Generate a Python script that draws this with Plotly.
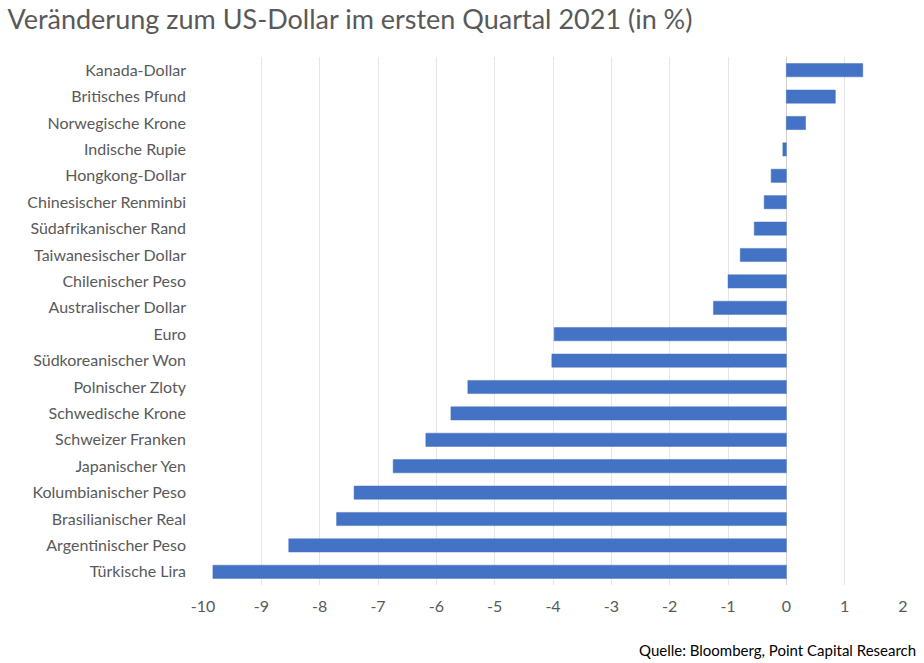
import plotly.graph_objects as go

categories = [
    "Kanada-Dollar", "Britisches Pfund", "Norwegische Krone", "Indische Rupie",
    "Hongkong-Dollar", "Chinesischer Renminbi", "Südafrikanischer Rand",
    "Taiwanesischer Dollar", "Chilenischer Peso", "Australischer Dollar",
    "Euro", "Südkoreanischer Won", "Polnischer Zloty", "Schwedische Krone",
    "Schweizer Franken", "Japanischer Yen", "Kolumbianischer Peso",
    "Brasilianischer Real", "Argentinischer Peso", "Türkische Lira",
]
values = [
    1.31, 0.84, 0.33, -0.06, -0.26, -0.38, -0.55, -0.79, -1.0, -1.25,
    -3.98, -4.02, -5.46, -5.75, -6.18, -6.74, -7.41, -7.71, -8.53, -9.83,
]
tick_values = list(range(-10, 3))

FONT = "Lato"
GREY = "#595959"

fig = go.Figure(go.Bar(
    x=values, y=categories, orientation="h",
    marker=dict(color="#4472C4", line=dict(color="#4472C4", width=0.5)),
    width=0.5,
))

fig.update_layout(
    width=924, height=663,
    margin=dict(l=203, r=21, t=57, b=78),
    paper_bgcolor="white", plot_bgcolor="white",
    showlegend=False,
    font=dict(family=FONT, color=GREY, size=16),
    title=dict(
        text="Veränderung zum US-Dollar im ersten Quartal 2021 (in %)",
        x=0.008, xanchor="left", y=0.97, yanchor="middle",
        font=dict(family=FONT, size=27, color=GREY),
    ),
    xaxis=dict(
        range=[-10, 2], tickvals=tick_values, ticktext=[str(v) for v in tick_values],
        showgrid=True, gridcolor="#E6E6E6", gridwidth=1,
        zeroline=True, zerolinecolor="#D0D0D0", zerolinewidth=1,
        ticks="", showline=False, ticklabelstandoff=10,
        tickfont=dict(family=FONT, size=16, color=GREY),
        fixedrange=True,
    ),
    yaxis=dict(
        categoryorder="array", categoryarray=categories[::-1],
        showgrid=False, zeroline=False, showline=False,
        ticks="", ticklabelstandoff=16,
        tickfont=dict(family=FONT, size=16, color=GREY),
        range=[-0.5, 19.5],
        fixedrange=True,
    ),
    annotations=[dict(
        text="Quelle: Bloomberg, Point Capital Research",
        xref="paper", yref="paper", x=1.0, y=-0.123,
        xanchor="right", yanchor="middle", showarrow=False,
        xshift=15,
        font=dict(family=FONT, size=15, color="#000000"),
    )],
)

fig.write_html("out.html", config={"displayModeBar": False},
               post_script="document.body.style.margin='0';")
